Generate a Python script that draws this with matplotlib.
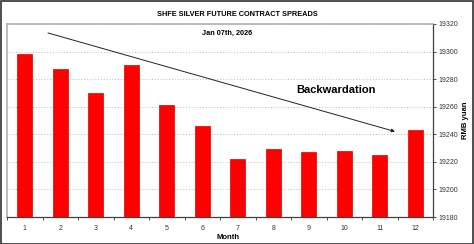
import matplotlib
matplotlib.use("Agg")
import matplotlib.pyplot as plt
from matplotlib.patches import Rectangle
from matplotlib.ticker import FixedLocator, NullFormatter, FixedFormatter

months = [1, 2, 3, 4, 5, 6, 7, 8, 9, 10, 11, 12]
prices = [19298, 19287, 19270, 19290, 19261, 19246, 19222, 19229, 19227, 19228, 19225, 19243]
yticks = [19180, 19200, 19220, 19240, 19260, 19280, 19300, 19320]

plt.rcParams['font.family'] = ['Liberation Sans', 'DejaVu Sans']

fig = plt.figure(figsize=(4.74, 2.44), dpi=100)
ax = fig.add_axes([7/474, 1 - 217/244, (433-7)/474, (217-24)/244])

ax.bar(months, [p - yticks[0] for p in prices], bottom=yticks[0], width=0.42,
       color='#ff0000', edgecolor='#e00000', linewidth=0.5, zorder=3)

ax.set_xlim(0.5, 12.5)
ax.set_ylim(yticks[0], yticks[-1])

ax.yaxis.tick_right()
ax.yaxis.set_label_position('right')
ax.set_yticks(yticks)
ax.set_yticklabels([str(v) for v in yticks], fontsize=5)
ax.tick_params(axis='y', direction='out', length=2.5, width=0.6, pad=1.5, colors='#333333')

ax.xaxis.set_major_locator(FixedLocator([m + 0.5 for m in [0] + months]))
ax.xaxis.set_major_formatter(NullFormatter())
ax.xaxis.set_minor_locator(FixedLocator(months))
ax.xaxis.set_minor_formatter(FixedFormatter([str(m) for m in months]))
ax.tick_params(axis='x', which='major', direction='out', length=2.5, width=0.6, colors='#333333')
ax.tick_params(axis='x', which='minor', length=0, labelsize=5, pad=6, colors='#333333')

ax.grid(axis='y', linestyle=(0, (1.2, 2.2)), color='#b4b4b4', linewidth=0.6, zorder=0)
ax.set_axisbelow(True)

for s in ['left', 'top']:
    ax.spines[s].set_color('#b0b0b0')
    ax.spines[s].set_linewidth(1.2)
ax.spines['bottom'].set_color('#404040')
ax.spines['bottom'].set_linewidth(0.9)
ax.spines['right'].set_color('#404040')
ax.spines['right'].set_linewidth(0.9)

ax.set_xlabel('Month', fontsize=5.5, fontweight='bold')
ax.xaxis.set_label_coords((228-7)/426, -(234-217)/193)
ax.set_ylabel('RMB yuan', fontsize=5.5, fontweight='bold', rotation=90, va='center')
ax.yaxis.set_label_coords((466-7)/426, 1 - (120-24)/193)

fig.text(237/474, 1 - 14/244, 'SHFE SILVER FUTURE CONTRACT SPREADS', ha='center', va='center',
         fontsize=5.3, fontweight='bold')
ax.text((227-7)/426, 1 - (33-24)/193, 'Jan 07th, 2026', transform=ax.transAxes,
        ha='center', va='center', fontsize=5.3, fontweight='bold')
ax.text((296-7)/426, 1 - (90-24)/193, 'Backwardation', transform=ax.transAxes,
        ha='left', va='center', fontsize=8, fontweight='bold')

ax.annotate('', xy=(11.43, 19242), xytext=(1.655, 19313.5),
            arrowprops=dict(arrowstyle='-|>', color='#222222', lw=0.7,
                            mutation_scale=5, shrinkA=0, shrinkB=0), zorder=5)

fig.patches.append(Rectangle((0.5/474, 0.5/244), 1 - 1.5/474, 1 - 1.5/244, transform=fig.transFigure,
                             fill=False, edgecolor='#303030', linewidth=1.2))

fig.savefig('out.png', dpi=100, facecolor='white')
